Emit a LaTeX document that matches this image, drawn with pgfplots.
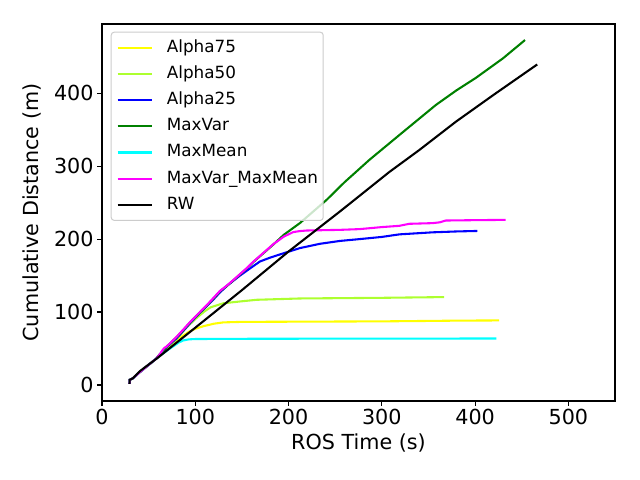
\documentclass[border=0pt]{standalone}
\usepackage{fontspec}
\setmainfont{DejaVu Sans}
\usepackage{pgfplots}
\pgfplotsset{compat=1.18}
\definecolor{mplyellow}{HTML}{FFFF00}
\definecolor{mplgy}{HTML}{ADFF2F}
\definecolor{mplblue}{HTML}{0000FF}
\definecolor{mplgreen}{HTML}{008000}
\definecolor{mplcyan}{HTML}{00FFFF}
\definecolor{mplmag}{HTML}{FF00FF}
\definecolor{legborder}{HTML}{CCCCCC}
\begin{document}
\begin{tikzpicture}
\useasboundingbox (-102bp,-79bp) rectangle (538bp,401bp);
\begin{axis}[
  at={(0,0)}, anchor=south west,
  scale only axis, width=513bp, height=377bp,
  xmin=0, xmax=550, ymin=-22, ymax=495,
  xtick={0,100,200,300,400,500},
  ytick={0,100,200,300,400},
  axis line style={line width=1.1bp},
  tick style={line width=1.1bp, black},
  tick align=outside, major tick length=4.9bp,
  xtick pos=lower, ytick pos=left,
  /pgf/number format/assume math mode=true,
  ticklabel style={font=\fontsize{20.7bp}{24bp}\selectfont},
  label style={font=\fontsize{20.7bp}{24bp}\selectfont},
  xlabel={ROS Time (s)},
  ylabel={Cumulative Distance (m)},
  xlabel style={at={(axis description cs:0.5,-0.1281)}, anchor=base},
  ylabel style={at={(axis description cs:-0.1238,0.5)}, anchor=base, rotate=0},
  legend cell align=left,
  legend image code/.code={\draw[#1, line width=2.08bp, opacity=1] (0bp,0bp) -- (34.7bp,0bp);},
  legend style={at={(axis description cs:0.017,0.9796)}, anchor=north west,
    font=\fontsize{16.8bp}{20bp}\selectfont,
    draw=legborder, line width=1bp, rounded corners=3bp,
    fill=white, fill opacity=0.8, text opacity=1,
    inner xsep=5.3bp, inner ysep=7bp,
    row sep=9.2bp, column sep=13.6bp,
    nodes={inner sep=0pt, text height=13bp, text depth=4bp}},
  every axis plot/.append style={line width=2.08bp, mark=none},
]
% Alpha75
\addplot[mplyellow] coordinates {(29.5,1.5)(29.6,7)(33,9)(40,17)(50,27.5)(58,36)(62,41)(70,50)(76,57.5)(85,66)(94,73.5)(100,77)(108.6,80.5)(120,84)(130,85.8)(150,86.5)(212,86.8)(300,87.2)(350,87.8)(380,88.2)(425.7,88.5)};
\addlegendentry{Alpha75}
% Alpha50
\addplot[mplgy] coordinates {(29.5,1.5)(29.6,7)(33,9)(40,17)(50,27.5)(58,36)(62,41.5)(70,51.5)(80,63)(90,78)(101.5,92)(110,101)(116.5,106.5)(130,112)(148,114.5)(166,116.8)(212,118.6)(300,119.5)(366.8,120.5)};
\addlegendentry{Alpha50}
% Alpha25
\addplot[mplblue] coordinates {(29.5,1.5)(29.6,7)(33,9)(40,17)(50,27.5)(58,36)(62,42)(69,51.5)(80,64)(87,74)(95,85.5)(105,99)(112,107.5)(120,118)(126.5,127)(135,137)(147.9,150)(160,161)(169.3,169.3)(180,174.5)(190.8,179)(212.2,187.7)(233.7,193.6)(255,197.5)(276,200)(300,203)(318.7,206.5)(354.3,209.3)(380,210.5)(402.5,211.2)};
\addlegendentry{Alpha25}
% MaxVar
\addplot[mplgreen] coordinates {(29.5,1.5)(29.6,7)(33,9)(40,17)(50,27.5)(58,36)(62,42)(69,52)(80,65.5)(87,75)(95,86.5)(105,99.5)(112,108.5)(120,119)(126.5,128.5)(133.6,135.5)(140,142.5)(155,159.5)(162.2,168.5)(176.5,184.5)(183.6,192.5)(195,206)(212.2,222)(240.8,253.8)(260,278)(286.6,308.6)(320,344)(358,384)(380,404)(400.7,421)(430,448)(453.5,473)};
\addlegendentry{MaxVar}
% MaxMean
\addplot[mplcyan] coordinates {(29.5,1.5)(29.6,7)(33,9)(40,17)(50,27.5)(58,36)(62,40)(70,47.5)(76.4,53)(82,58)(87,61)(93,62.5)(100,63)(150,63.3)(250,63.5)(422.8,63.7)};
\addlegendentry{MaxMean}
% MaxVar_MaxMean
\addplot[mplmag] coordinates {(29.5,1.5)(29.6,7)(33,9)(40,17)(50,27.5)(58,36)(62,42)(65,48)(67,51)(69,52.5)(72,56)(80,66)(87,75.8)(95,87)(105,100)(112,109)(120,120)(126.5,129)(133.6,136)(140,143)(155,160)(162.2,169)(176.5,185)(183.6,193)(195,203.5)(205,209.6)(212,211)(219.4,211.8)(255,212.7)(276,213.7)(300,216.5)(318.7,218.2)(329.4,221)(354.3,221.9)(362,223)(368.6,225.5)(400,226)(432.8,226.4)};
\addlegendentry{MaxVar\_MaxMean}
% RW
\addplot[black] coordinates {(29.5,1.5)(29.6,7)(33,9)(40.7,19)(50,28)(60,37.5)(100,78.5)(150,130)(200,183)(255,237.8)(308,292)(340,322)(379.4,361)(420,398)(466.6,439.5)};
\addlegendentry{RW}
\end{axis}
\end{tikzpicture}
\end{document}
